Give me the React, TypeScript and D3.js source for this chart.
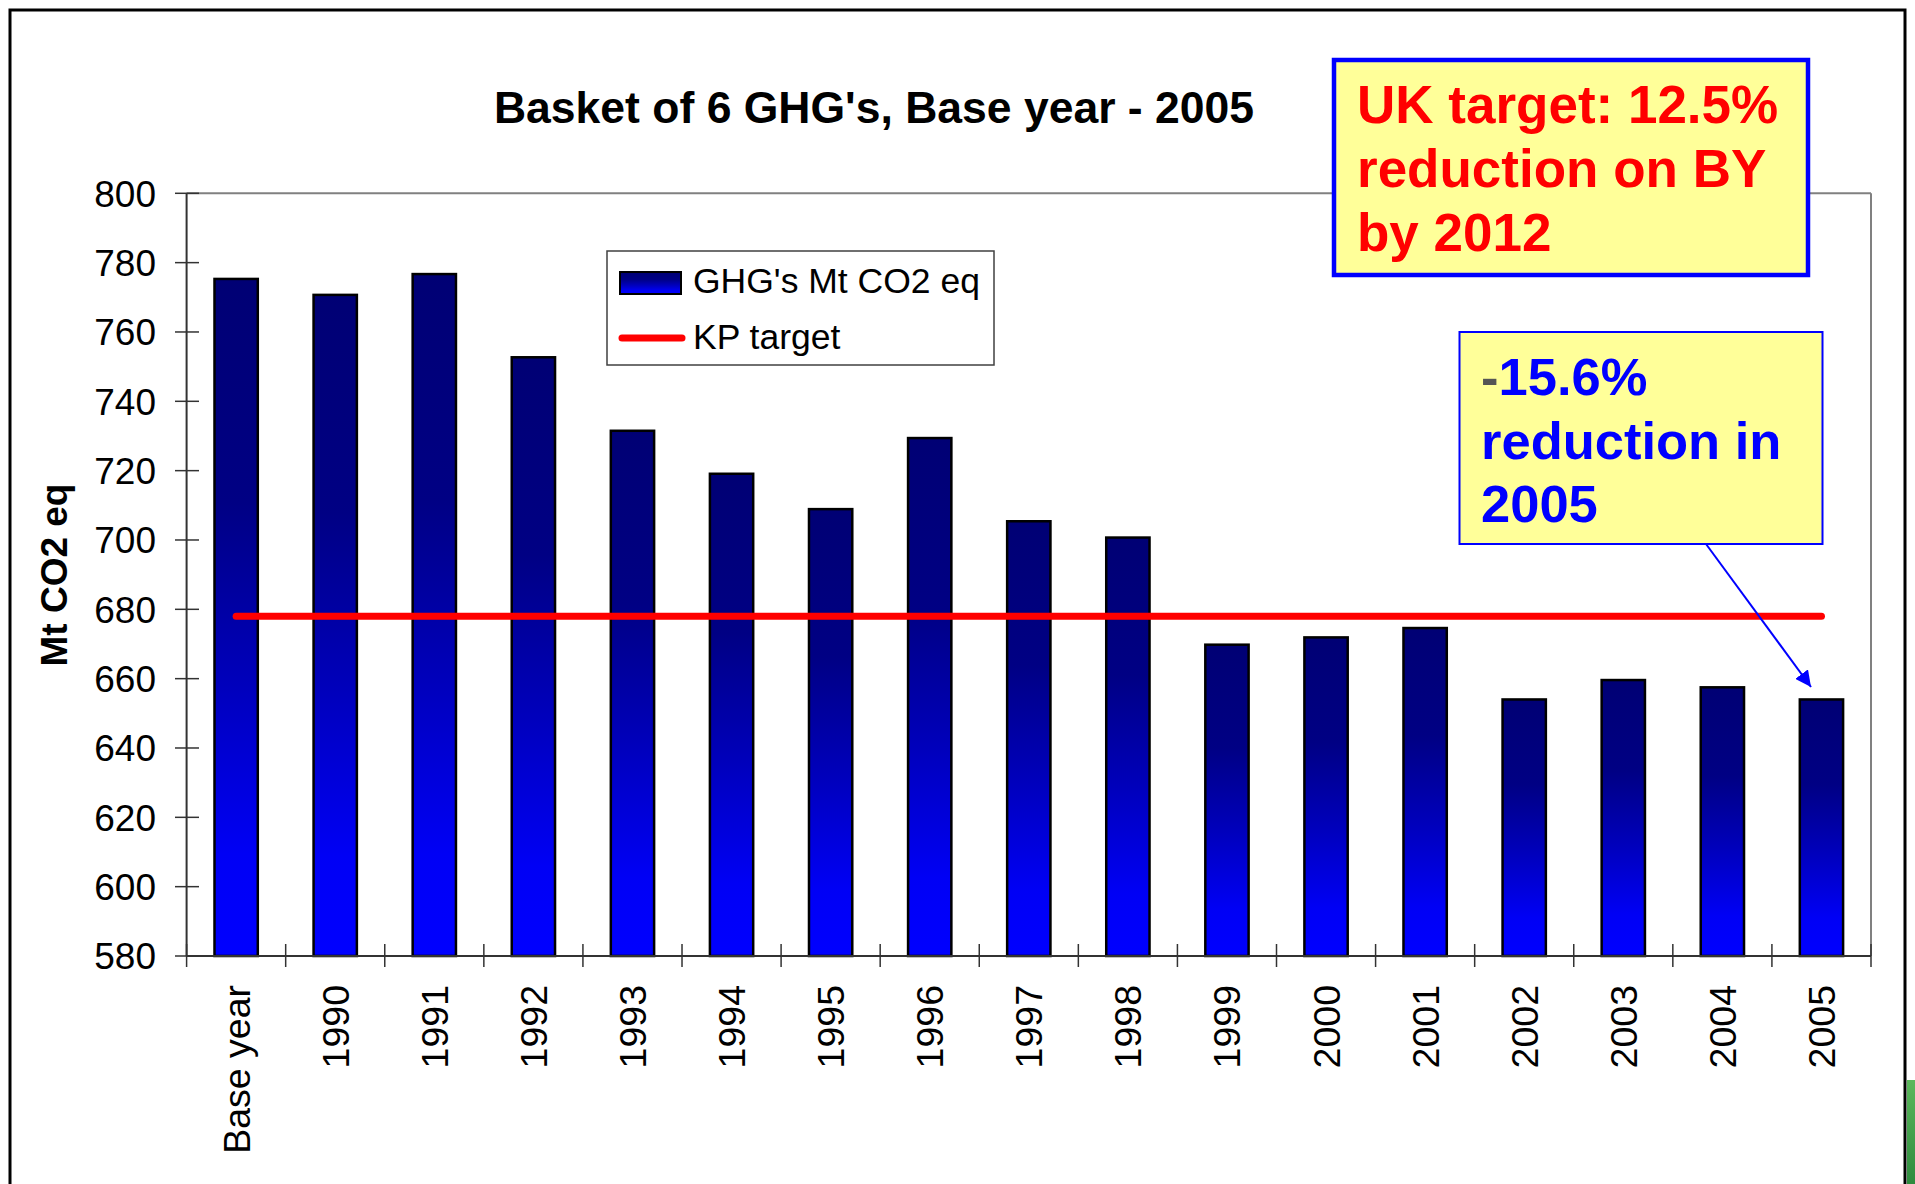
import React from "react";
import * as d3 from "d3";

const categories = ["Base year", "1990", "1991", "1992", "1993", "1994", "1995", "1996", "1997", "1998", "1999", "2000", "2001", "2002", "2003", "2004", "2005"];
const emissions = [775.3, 770.7, 776.7, 752.7, 731.5, 719.1, 708.9, 729.4, 705.4, 700.7, 669.8, 671.9, 674.6, 654.0, 659.6, 657.5, 654.0];
const kpTarget = 678.0;
const yTicks = [580, 600, 620, 640, 660, 680, 700, 720, 740, 760, 780, 800];
const titleText = "Basket of 6 GHG's, Base year - 2005";
const yAxisTitle = "Mt CO2 eq";
const legendLabels = ["GHG's Mt CO2 eq", "KP target"];
const ukTargetLines = ["UK target: 12.5%", "reduction on BY", "by 2012"];
const reductionLines = ["15.6%", "reduction in", "2005"];

const W = 1915;
const H = 1184;
const plot = { left: 186.6, right: 1871, top: 193.3, bottom: 956 };
const FONT = "'Liberation Sans', Arial, Helvetica, sans-serif";

export default function App() {
  const y = d3.scaleLinear().domain([580, 800]).range([plot.bottom, plot.top]);
  const x = d3
    .scaleBand<string>()
    .domain(categories)
    .range([plot.left, plot.right])
    .paddingInner(0.563)
    .paddingOuter(0.2815);
  const bw = x.bandwidth();
  const step = x.step();
  const center = (c: string) => (x(c) as number) + bw / 2;
  const boundaries = d3.range(categories.length + 1).map((i) => plot.left + i * step);

  const first = categories[0];
  const last = categories[categories.length - 1];

  return (
    <svg
      width={W}
      height={H}
      style={{ position: "absolute", left: 0, top: 0, background: "#fff" }}
      fontFamily={FONT}
    >
      <defs>
        <linearGradient id="barGrad" x1="0" y1="0" x2="0" y2="1">
          <stop offset="0" stopColor="#000074" />
          <stop offset="0.33" stopColor="#000084" />
          <stop offset="0.6" stopColor="#0000bc" />
          <stop offset="0.85" stopColor="#0000f5" />
          <stop offset="1" stopColor="#0000ff" />
        </linearGradient>
        <linearGradient id="greenGrad" x1="0" y1="0" x2="0" y2="1">
          <stop offset="0" stopColor="#5cb85c" />
          <stop offset="1" stopColor="#2e8b3e" />
        </linearGradient>
        <marker
          id="arrowHead"
          viewBox="0 0 10 10"
          refX="10"
          refY="5"
          markerWidth="16"
          markerHeight="16"
          markerUnits="userSpaceOnUse"
          orient="auto"
        >
          <path d="M0,0 L10,5 L0,10 z" fill="#0000ff" />
        </marker>
      </defs>

      {/* outer frame */}
      <rect x={10} y={10} width={1895} height={1200} fill="#fff" stroke="#000" strokeWidth={3} />
      <rect x={1907} y={1080} width={8} height={104} fill="url(#greenGrad)" />

      {/* title */}
      <text x={874} y={123} textAnchor="middle" fontSize={44.5} fontWeight="bold" fill="#000">
        {titleText}
      </text>

      {/* plot area border (top/right) */}
      <line x1={plot.left} x2={plot.right} y1={plot.top} y2={plot.top} stroke="#808080" strokeWidth={2} />
      <line x1={plot.right} x2={plot.right} y1={plot.top} y2={plot.bottom} stroke="#808080" strokeWidth={2} />

      {/* bars */}
      {categories.map((c, i) => (
        <rect
          key={c}
          x={x(c)}
          y={y(emissions[i])}
          width={bw}
          height={plot.bottom - y(emissions[i])}
          fill="url(#barGrad)"
          stroke="#000"
          strokeWidth={2.5}
        />
      ))}

      {/* axes */}
      <line x1={plot.left} x2={plot.left} y1={plot.top} y2={plot.bottom} stroke="#333" strokeWidth={2} />
      <line x1={plot.left} x2={plot.right} y1={plot.bottom} y2={plot.bottom} stroke="#333" strokeWidth={2} />

      {/* y ticks */}
      {yTicks.map((t) => (
        <g key={t}>
          <line x1={175} x2={199} y1={y(t)} y2={y(t)} stroke="#333" strokeWidth={1.5} />
          <text x={156} y={y(t)} dy="0.36em" textAnchor="end" fontSize={37} fill="#000">
            {t}
          </text>
        </g>
      ))}

      {/* x ticks */}
      {boundaries.map((bx, i) => (
        <line key={i} x1={bx} x2={bx} y1={plot.bottom - 12} y2={plot.bottom + 11} stroke="#333" strokeWidth={1.5} />
      ))}
      {categories.map((c) => (
        <text
          key={c}
          transform={`translate(${center(c)},${985}) rotate(-90)`}
          dy="0.36em"
          textAnchor="end"
          fontSize={37.5}
          fill="#000"
        >
          {c}
        </text>
      ))}

      {/* y axis title */}
      <text
        transform={`translate(${54},${575}) rotate(-90)`}
        dy="0.36em"
        textAnchor="middle"
        fontSize={37}
        fontWeight="bold"
        fill="#000"
      >
        {yAxisTitle}
      </text>

      {/* KP target line */}
      <line
        x1={center(first)}
        x2={center(last)}
        y1={y(kpTarget)}
        y2={y(kpTarget)}
        stroke="#ff0000"
        strokeWidth={7}
        strokeLinecap="round"
      />

      {/* legend */}
      <rect x={607} y={251} width={387} height={114} fill="#fff" stroke="#404040" strokeWidth={1.5} />
      <rect x={620} y={272} width={61} height={22} fill="url(#barGrad)" stroke="#000" strokeWidth={2} />
      <text x={693} y={293} fontSize={35.5} fill="#000">
        {legendLabels[0]}
      </text>
      <line x1={622} x2={682} y1={338} y2={338} stroke="#ff0000" strokeWidth={7} strokeLinecap="round" />
      <text x={693} y={349} fontSize={35.5} fill="#000">
        {legendLabels[1]}
      </text>

      {/* UK target box */}
      <rect x={1334} y={60} width={474} height={215} fill="#ffff99" stroke="#0000ff" strokeWidth={4.5} />
      {ukTargetLines.map((l, i) => (
        <text key={l} x={1357} y={123 + i * 64} fontSize={53} fontWeight="bold" fill="#ff0000">
          {l}
        </text>
      ))}

      {/* reduction box */}
      <rect x={1459.5} y={332} width={363} height={212} fill="#ffff99" stroke="#0000ff" strokeWidth={2} />
      {reductionLines.map((l, i) => (
        <text key={l} x={1481} y={395 + i * 63.5} fontSize={52.5} fontWeight="bold" fill="#0000ff">
          {i === 0 ? <tspan fill="#555555">-</tspan> : null}
          {l}
        </text>
      ))}

      {/* arrow */}
      <line x1={1706} y1={544} x2={1811} y2={687} stroke="#0000ff" strokeWidth={2} markerEnd="url(#arrowHead)" />
    </svg>
  );
}
